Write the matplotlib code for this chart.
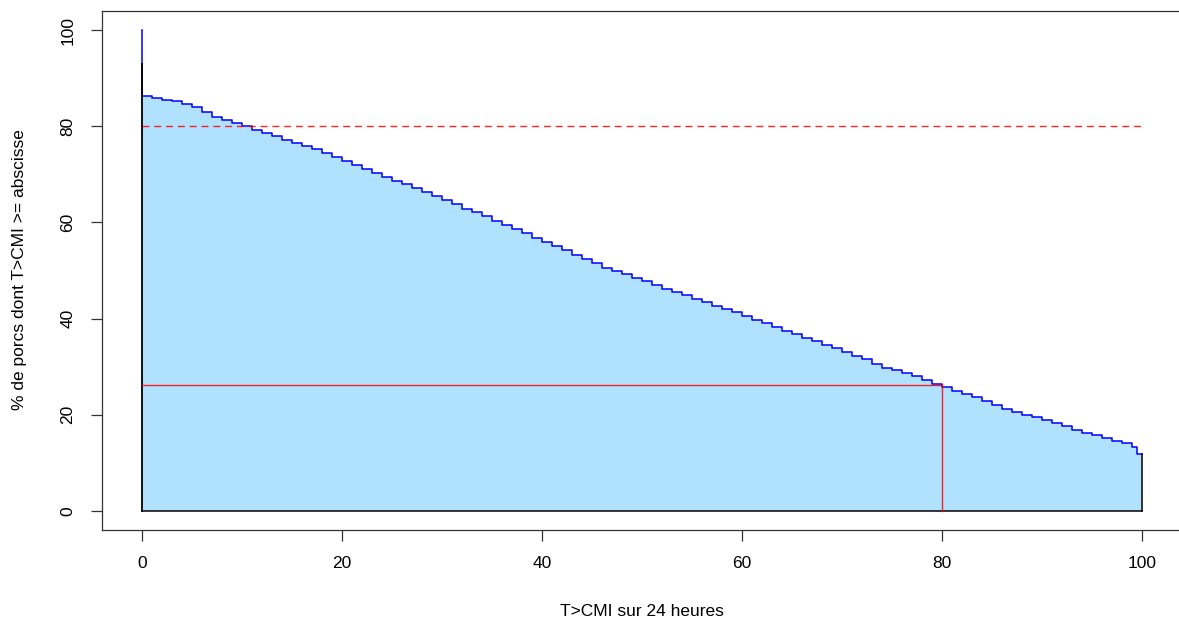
import numpy as np
import matplotlib
matplotlib.use("Agg")
import matplotlib.pyplot as plt

plt.rcParams['font.family'] = ['Liberation Sans', 'DejaVu Sans']

# courbe : % de porcs dont T>CMI >= abscisse
x_vals = list(range(0, 100)) + [99.5, 100]
y_vals = [86.3, 85.8, 85.5, 85.3, 84.7, 84.0, 83.0, 82.0, 81.3, 80.6,
          80.0, 79.2, 78.6, 77.9, 77.2, 76.6, 75.9, 75.2, 74.4, 73.6,
          72.8, 71.9, 71.1, 70.2, 69.4, 68.7, 67.9, 67.2, 66.4, 65.5,
          64.6, 63.8, 62.9, 62.1, 61.3, 60.3, 59.4, 58.6, 57.8, 56.8,
          56.0, 55.0, 54.2, 53.2, 52.4, 51.5, 50.6, 49.9, 49.2, 48.5,
          47.8, 47.0, 46.2, 45.5, 44.8, 44.1, 43.4, 42.7, 42.0, 41.3,
          40.6, 39.8, 39.0, 38.2, 37.4, 36.7, 36.0, 35.3, 34.6, 33.9,
          33.1, 32.3, 31.5, 30.5, 29.8, 29.2, 28.7, 28.0, 27.3, 26.4,
          25.8, 25.0, 24.3, 23.6, 22.9, 22.1, 21.2, 20.6, 20.0, 19.5,
          18.9, 18.3, 17.6, 16.9, 16.2, 15.7, 15.2, 14.6, 14.1, 13.2,
          11.8, 11.8]
y_start = 100
y_border = 93
seuil = 80
x_cible = 80
y_cible = 26.1
ticks = [0, 20, 40, 60, 80, 100]

fig = plt.figure(figsize=(11.79, 6.26), dpi=100)
ax = fig.add_axes([102/1179, 96/626, 1080/1179, 519/626])

# polygone rempli
px = [0, 0] + [v for v in x_vals for _ in (0, 1)][1:] + [100]
py = [0, y_border] + [v for v in y_vals for _ in (0, 1)][:-1] + [0]
ax.fill(px, py, color='#B0E2FF', lw=0, zorder=1)

# escalier bleu
ax.plot([0] + x_vals, [y_start] + y_vals, drawstyle='steps-post', color='blue', lw=1.1, zorder=3)

# bords noirs du polygone
ax.plot([0, 0], [0, y_border], color='black', lw=1.3, zorder=4)
ax.plot([0, 100], [0, 0], color='black', lw=1.1, zorder=4)
ax.plot([100, 100], [0, y_vals[-1]], color='black', lw=1.1, zorder=4)

# lignes rouges
ax.plot([0, 100], [seuil, seuil], color='red', ls=(0, (5, 3.5)), lw=1, alpha=0.85, zorder=5)
ax.plot([0, x_cible], [y_cible, y_cible], color='red', lw=1, alpha=0.85, zorder=5)
ax.plot([x_cible, x_cible], [0, y_cible], color='red', lw=1, alpha=0.85, zorder=5)

ax.set_xlim(-4, 104)
ax.set_ylim(-4, 104)
ax.set_xticks(ticks)
ax.set_yticks(ticks)
ax.set_yticklabels([str(t) for t in ticks], rotation=90, va='center')
ax.tick_params(direction='out', length=8, width=0.9, color='#333333', labelsize=12.5, pad=11)
for s in ax.spines.values():
    s.set_color('#333333')
    s.set_linewidth(0.9)

fig.text(642/1179, 1 - 612/626, 'T>CMI sur 24 heures', ha='center', va='center', fontsize=12.5)
fig.text(20/1179, 1 - 270/626, '% de porcs dont T>CMI >= abscisse', ha='center', va='center',
         rotation=90, fontsize=12.5)

fig.savefig('out.png', dpi=100)
